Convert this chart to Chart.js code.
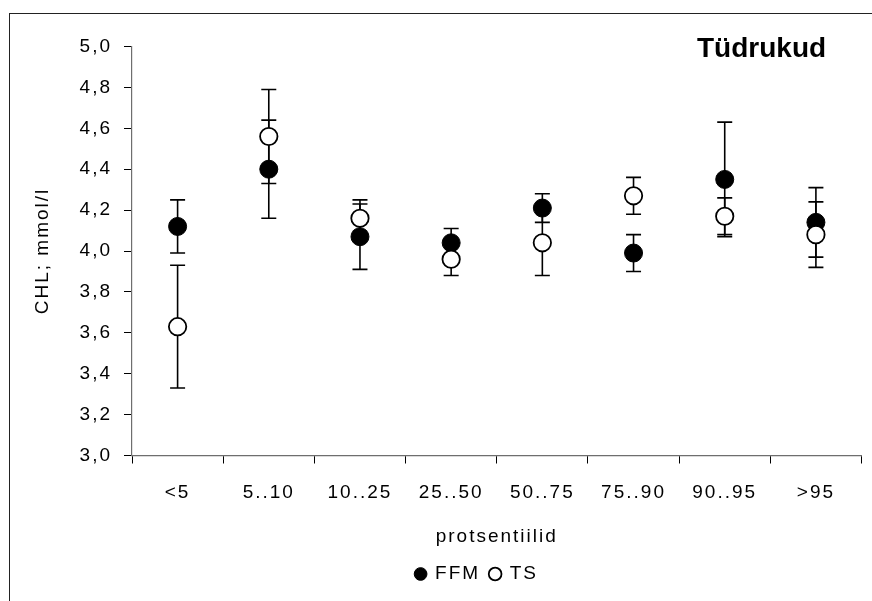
<!DOCTYPE html>
<html>
<head>
<meta charset="utf-8">
<script src="https://cdn.jsdelivr.net/npm/chart.js@4"></script>
<style>
  body { margin: 0; background: #fff; overflow: hidden; }
  #frame { position: absolute; left: 9px; top: 13px; width: 900px; height: 700px; border-top: 1px solid #222; border-left: 1px solid #222; }
  #myChart { position: absolute; left: 0; top: 0; }
</style>
</head>
<body>
<div id="frame"></div>
<canvas id="myChart" width="872" height="601"></canvas>
<script>
const categories = ['<5', '5..10', '10..25', '25..50', '50..75', '75..90', '90..95', '>95'];
const ffmValues = [4.12, 4.40, 4.07, 4.04, 4.21, 3.99, 4.35, 4.14];
const ffmErrors = [0.13, 0.24, 0.16, 0.07, 0.07, 0.09, 0.28, 0.17];
const tsValues = [3.63, 4.56, 4.16, 3.96, 4.04, 4.27, 4.17, 4.08];
const tsErrors = [0.30, 0.23, 0.09, 0.08, 0.16, 0.09, 0.09, 0.16];
const yTicks = { min: 3, max: 5, step: 0.2 };

const fontFamily = '"Liberation Sans", Arial, sans-serif';
const fontSize = 19;
const spacing = '2px';

// the original text is rendered wider than plain Arial
const spacingPlugin = {
  id: 'spacing',
  beforeUpdate(chart) { chart.ctx.letterSpacing = spacing; },
  beforeLayout(chart) { chart.ctx.letterSpacing = spacing; },
  beforeDraw(chart) { chart.ctx.letterSpacing = spacing; },
  afterLayout(chart) {
    // legend sits a bit left of the plot centre
    chart.legend.left -= 40;
  },
};

const errorBars = {
  id: 'errorBars',
  beforeDatasetsDraw(chart) {
    const { ctx } = chart;
    const xScale = chart.scales.x;
    const yScale = chart.scales.y;
    ctx.save();
    ctx.strokeStyle = '#000';
    ctx.lineWidth = 1.6;
    chart.data.datasets.forEach((ds) => {
      ds.data.forEach((v, i) => {
        const px = xScale.getPixelForValue(i);
        const top = yScale.getPixelForValue(v + ds.errors[i]);
        const bot = yScale.getPixelForValue(v - ds.errors[i]);
        ctx.beginPath();
        ctx.moveTo(px, top);
        ctx.lineTo(px, bot);
        ctx.moveTo(px - 7.5, top);
        ctx.lineTo(px + 7.5, top);
        ctx.moveTo(px - 7.5, bot);
        ctx.lineTo(px + 7.5, bot);
        ctx.stroke();
      });
    });
    ctx.restore();
  },
};

const cornerTitle = {
  id: 'cornerTitle',
  afterDraw(chart) {
    const { ctx } = chart;
    ctx.save();
    ctx.letterSpacing = '0px';
    ctx.font = 'bold 28px ' + fontFamily;
    ctx.fillStyle = '#000';
    ctx.textAlign = 'left';
    ctx.textBaseline = 'alphabetic';
    ctx.fillText('Tüdrukud', 697, 57);
    ctx.restore();
  },
};

const ctx = document.getElementById('myChart').getContext('2d');
const chart = new Chart(ctx, {
  type: 'line',
  data: {
    labels: categories,
    datasets: [
      {
        label: 'FFM',
        data: ffmValues,
        errors: ffmErrors,
        showLine: false,
        pointStyle: 'circle',
        pointRadius: 9,
        pointBackgroundColor: '#000',
        pointBorderColor: '#000',
        pointBorderWidth: 1,
        backgroundColor: '#000',
        borderColor: '#000',
        borderWidth: 1,
        order: 2,
      },
      {
        label: 'TS',
        data: tsValues,
        errors: tsErrors,
        showLine: false,
        pointStyle: 'circle',
        pointRadius: 8.7,
        pointBackgroundColor: '#fff',
        pointBorderColor: '#000',
        pointBorderWidth: 1.8,
        backgroundColor: '#fff',
        borderColor: '#000',
        borderWidth: 1.8,
        order: 1,
      },
    ],
  },
  options: {
    responsive: false,
    animation: false,
    devicePixelRatio: 1,
    layout: { padding: { top: 46.5, right: 4.5, bottom: 7.5, left: 0 } },
    plugins: {
      tooltip: { enabled: false },
      title: { display: false },
      legend: {
        position: 'bottom',
        fullSize: false,
        labels: {
          usePointStyle: true,
          boxWidth: 10,
          boxHeight: 9,
          padding: 10,
          color: '#000',
          font: { family: fontFamily, size: fontSize },
          sort: (a, b) => a.datasetIndex - b.datasetIndex,
        },
      },
    },
    scales: {
      x: {
        type: 'category',
        offset: true,
        grid: { offset: true, drawOnChartArea: false, tickLength: 8, color: '#000', lineWidth: 1 },
        border: { color: '#6e6e6e', width: 1.2 },
        ticks: {
          color: '#000',
          padding: 18,
          maxRotation: 0,
          autoSkip: false,
          font: { family: fontFamily, size: fontSize },
        },
        title: {
          display: true,
          text: 'protsentiilid',
          color: '#000',
          font: { family: fontFamily, size: fontSize },
          padding: { top: 0, bottom: 6.6 },
        },
        afterFit: (scale) => { scale.height = 99; },
      },
      y: {
        min: yTicks.min,
        max: yTicks.max,
        grid: { drawOnChartArea: false, tickLength: 8, color: '#000', lineWidth: 1 },
        border: { color: '#6e6e6e', width: 1.2 },
        ticks: {
          stepSize: yTicks.step,
          color: '#000',
          padding: 12,
          font: { family: fontFamily, size: fontSize },
          callback: (v) => Number(v).toFixed(1).replace('.', ','),
        },
        title: {
          display: true,
          text: 'CHL; mmol/l',
          color: '#000',
          font: { family: fontFamily, size: fontSize },
          padding: { top: 31.6, bottom: 0 },
        },
        afterFit: (scale) => { scale.width = 132; },
      },
    },
  },
  plugins: [spacingPlugin, errorBars, cornerTitle],
});
</script>
</body>
</html>
